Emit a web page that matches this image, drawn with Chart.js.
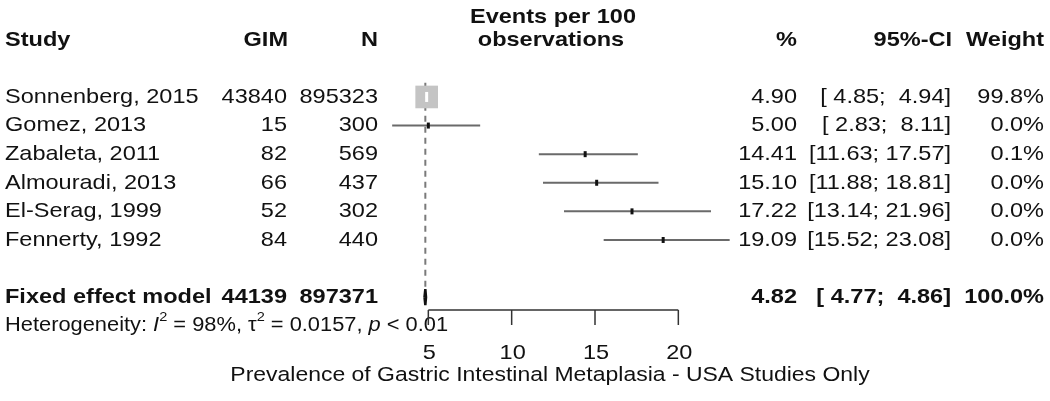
<!DOCTYPE html>
<html>
<head>
<meta charset="utf-8">
<script src="https://cdn.jsdelivr.net/npm/chart.js@4"></script>
<style>
  body { margin: 0; background: #fff; }
  #wrap { width: 1050px; height: 401px; }
</style>
</head>
<body>
<div id="wrap"><canvas id="forest"></canvas></div>
<script>
// study data
const studies = ['Sonnenberg, 2015', 'Gomez, 2013', 'Zabaleta, 2011', 'Almouradi, 2013', 'El-Serag, 1999', 'Fennerty, 1992'];
const gim = [43840, 15, 82, 66, 52, 84];
const total = [895323, 300, 569, 437, 302, 440];
const est = [4.90, 5.00, 14.41, 15.10, 17.22, 19.09];
const lower = [4.85, 2.83, 11.63, 11.88, 13.14, 15.52];
const upper = [4.94, 8.11, 17.57, 18.81, 21.96, 23.08];
const weight = ['99.8%', '0.0%', '0.1%', '0.0%', '0.0%', '0.0%'];

// pooled (fixed effect)
const pooledLabel = 'Fixed effect model';
const pooledGim = 44139;
const pooledN = 897371;
const pooledEst = 4.82;
const pooledLower = 4.77;
const pooledUpper = 4.86;
const pooledWeight = '100.0%';
const i2 = '98%';
const tau2 = '0.0157';
const pval = '< 0.01';

const xTicks = [5, 10, 15, 20];
const xTitle = 'Prevalence of Gastric Intestinal Metaplasia - USA Studies Only';

const fmt = (v) => v.toFixed(2);
const pad = (v) => (v < 10 ? ' ' : '') + fmt(v);
const ciText = (lo, hi) => '[' + pad(lo) + '; ' + pad(hi) + ']';

const TXT = '#111';
const SX = 1.12;   // picture is a bit wider than tall
const FONT = 'Liberation Sans, Arial, sans-serif';

const datasets = [];

// dashed line at the pooled estimate
datasets.push({
  type: 'line', order: 10,
  data: [{x: pooledEst, y: -0.5}, {x: pooledEst, y: 6.7}],
  borderColor: '#7a7a7a', borderWidth: 2, borderDash: [6, 5], pointRadius: 0
});

// confidence intervals
studies.forEach((s, i) => {
  datasets.push({
    type: 'line', order: i === 0 ? 2 : 8,
    data: [{x: lower[i], y: i}, {x: upper[i], y: i}],
    borderColor: i === 0 ? '#ffffff' : '#6a6a6a', borderWidth: 2, pointRadius: 0
  });
});

// big weighted square (Sonnenberg)
datasets.push({
  type: 'scatter', order: 5,
  data: [{x: est[0], y: 0}],
  pointStyle: 'rect', pointRadius: 16, backgroundColor: '#c4c4c4', borderColor: '#c4c4c4', borderWidth: 0
});
datasets.push({
  type: 'scatter', order: 1,
  data: [{x: est[0], y: 0}],
  pointStyle: 'line', rotation: 90, pointRadius: 5, borderColor: '#ffffff', borderWidth: 3
});

// tiny markers for the other studies
datasets.push({
  type: 'scatter', order: 1,
  data: est.slice(1).map((v, k) => ({x: v, y: k + 1})),
  pointStyle: 'line', rotation: 90, pointRadius: 3, borderColor: '#111', borderWidth: 3
});

// pooled diamond
datasets.push({
  type: 'line', order: 1,
  data: [
    {x: pooledLower, y: 7}, {x: pooledEst, y: 6.72}, {x: pooledUpper, y: 7},
    {x: pooledEst, y: 7.28}, {x: pooledLower, y: 7}
  ],
  borderColor: '#111', borderWidth: 2.5, pointRadius: 0, tension: 0
});

function txt(ctx, s, x, y, align, font) {
  ctx.save();
  ctx.font = font;
  ctx.fillStyle = TXT;
  ctx.textBaseline = 'middle';
  ctx.textAlign = align;
  ctx.translate(x, y);
  ctx.scale(SX, 1);
  ctx.fillText(s, 0, 0);
  ctx.restore();
}

const forestText = {
  id: 'forestText',
  afterDraw(chart) {
    const ctx = chart.ctx;
    const xs = chart.scales.x, ys = chart.scales.y;
    const reg = '21px ' + FONT, bold = 'bold 21px ' + FONT;
    const Y = (v) => ys.getPixelForValue(v);

    // header
    txt(ctx, 'Study', 5, Y(-2), 'left', bold);
    txt(ctx, 'GIM', 288, Y(-2), 'right', bold);
    txt(ctx, 'N', 378, Y(-2), 'right', bold);
    txt(ctx, 'Events per 100', 553, Y(-2.8), 'center', bold);
    txt(ctx, 'observations', 551, Y(-2), 'center', bold);
    txt(ctx, '%', 797, Y(-2), 'right', bold);
    txt(ctx, '95%-CI', 952, Y(-2), 'right', bold);
    txt(ctx, 'Weight', 1044, Y(-2), 'right', bold);

    // studies
    studies.forEach((s, i) => {
      const y = Y(i);
      txt(ctx, s, 5, y, 'left', reg);
      txt(ctx, String(gim[i]), 287, y, 'right', reg);
      txt(ctx, String(total[i]), 378, y, 'right', reg);
      txt(ctx, fmt(est[i]), 797, y, 'right', reg);
      txt(ctx, ciText(lower[i], upper[i]), 951, y, 'right', reg);
      txt(ctx, weight[i], 1044, y, 'right', reg);
    });

    // pooled
    const yp = Y(7);
    txt(ctx, pooledLabel, 5, yp, 'left', bold);
    txt(ctx, String(pooledGim), 287, yp, 'right', bold);
    txt(ctx, String(pooledN), 378, yp, 'right', bold);
    txt(ctx, fmt(pooledEst), 797, yp, 'right', bold);
    txt(ctx, ciText(pooledLower, pooledUpper), 951, yp, 'right', bold);
    txt(ctx, pooledWeight, 1044, yp, 'right', bold);

    // heterogeneity line
    const yh = Y(8);
    const small = '19.5px ' + FONT, smallIt = 'italic 19.5px ' + FONT, sup = '13px ' + FONT;
    const parts = [
      ['Heterogeneity: ', small, 0], ['I', smallIt, 0], ['2', sup, -8],
      [' = ' + i2 + ', ', small, 0], ['\u03c4', small, 0], ['2', sup, -8],
      [' = ' + tau2 + ', ', small, 0], ['p', smallIt, 0], [' ' + pval, small, 0]
    ];
    let x = 5;
    parts.forEach(([s, f, dy]) => {
      ctx.font = f;
      const w = ctx.measureText(s).width * SX;
      txt(ctx, s, x, yh + dy, 'left', f);
      x += w;
    });

    // x axis
    const ya = Y(7.45);
    ctx.save();
    ctx.strokeStyle = '#333';
    ctx.lineWidth = 1.5;
    ctx.beginPath();
    ctx.moveTo(xs.getPixelForValue(xTicks[0]), ya);
    ctx.lineTo(xs.getPixelForValue(xTicks[xTicks.length - 1]), ya);
    xTicks.forEach((t) => {
      const px = xs.getPixelForValue(t);
      ctx.moveTo(px, ya);
      ctx.lineTo(px, ya + 15);
    });
    ctx.stroke();
    ctx.restore();
    xTicks.forEach((t) => {
      txt(ctx, String(t), xs.getPixelForValue(t) + 1, Y(8.95), 'center', '21px ' + FONT);
    });
    txt(ctx, xTitle, 550, Y(9.74), 'center', '20.5px ' + FONT);
  }
};

new Chart(document.getElementById('forest'), {
  type: 'scatter',
  data: { datasets: datasets },
  options: {
    responsive: true,
    maintainAspectRatio: false,
    animation: false,
    layout: { autoPadding: false, padding: { left: 345, right: 205, top: 0, bottom: 0 } },
    scales: {
      x: { type: 'linear', min: 0, max: 30, display: false },
      y: { type: 'linear', min: -3.39, max: 10.63, reverse: true, display: false }
    },
    plugins: { legend: { display: false }, tooltip: { enabled: false } }
  },
  plugins: [forestText]
});
</script>
</body>
</html>
